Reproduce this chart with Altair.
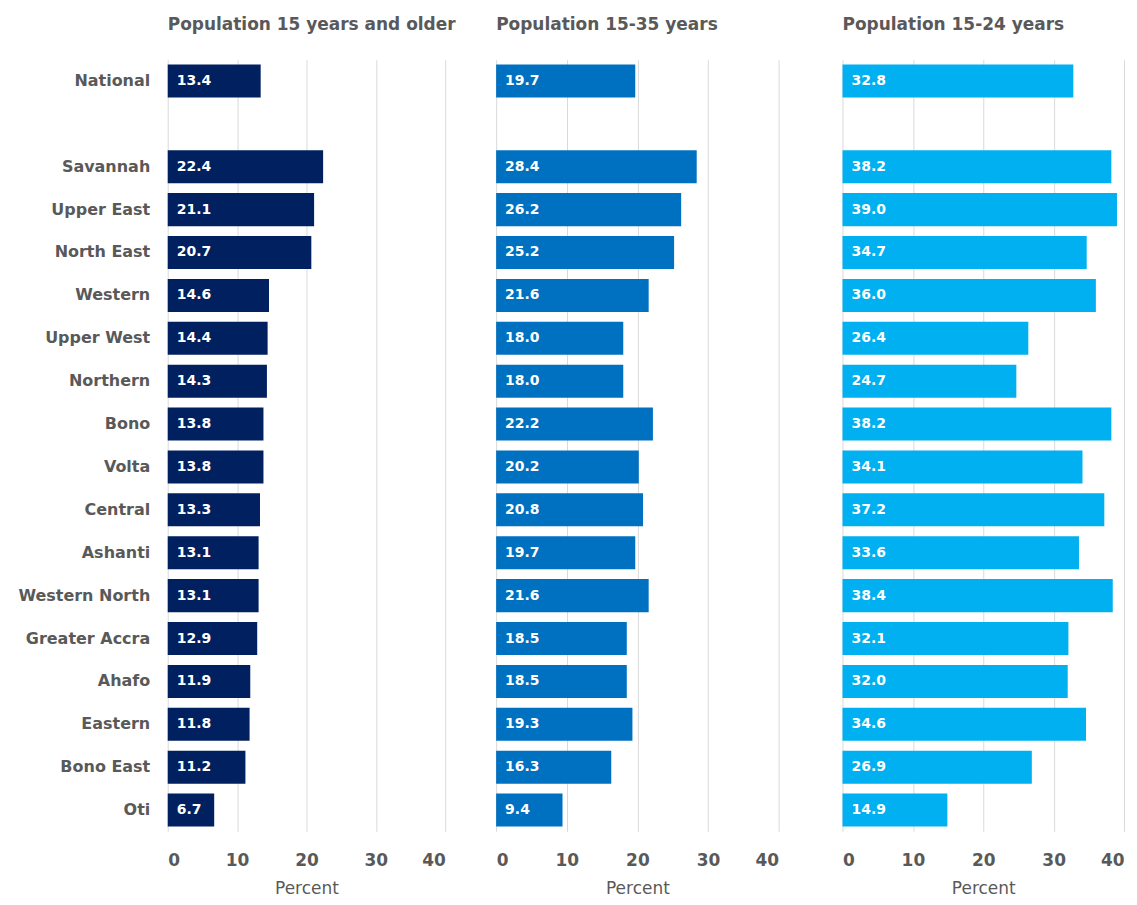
import altair as alt
import pandas as pd

regions = ["National", " ", "Savannah", "Upper East", "North East", "Western", "Upper West",
           "Northern", "Bono", "Volta", "Central", "Ashanti", "Western North",
           "Greater Accra", "Ahafo", "Eastern", "Bono East", "Oti"]
data_regions = [r for r in regions if r.strip()]
pop_15_older = [13.4, 22.4, 21.1, 20.7, 14.6, 14.4, 14.3, 13.8, 13.8, 13.3, 13.1, 13.1, 12.9, 11.9, 11.8, 11.2, 6.7]
pop_15_35 = [19.7, 28.4, 26.2, 25.2, 21.6, 18.0, 18.0, 22.2, 20.2, 20.8, 19.7, 21.6, 18.5, 18.5, 19.3, 16.3, 9.4]
pop_15_24 = [32.8, 38.2, 39.0, 34.7, 36.0, 26.4, 24.7, 38.2, 34.1, 37.2, 33.6, 38.4, 32.1, 32.0, 34.6, 26.9, 14.9]

titles = ["Population 15 years and older", "Population 15-35 years", "Population 15-24 years"]
colors = ["#002060", "#0070C0", "#00B0F0"]
series = [pop_15_older, pop_15_35, pop_15_24]
widths = [278, 283, 282]
gaps = [0, 40, 64]

FONT = "DejaVu Sans"
GREY = "#595959"

panels = []
for i in range(3):
    df = pd.DataFrame({"region": data_regions, "value": series[i]})
    if i == 0:
        yaxis = alt.Axis(title=None, labelFontSize=16, labelFontWeight="bold", labelColor=GREY,
                         labelFont=FONT, ticks=False, domain=False, labelPadding=18)
    else:
        yaxis = alt.Axis(title=None, labels=False, ticks=False, domain=False, minExtent=gaps[i],
                         maxExtent=gaps[i])
    y = alt.Y("region:N", scale=alt.Scale(domain=regions, paddingInner=0.23, paddingOuter=0.11),
              axis=yaxis)
    x = alt.X("value:Q", scale=alt.Scale(domain=[0, 40], nice=False),
              axis=alt.Axis(values=[0, 10, 20, 30, 40], title="Percent", titleFontWeight="normal",
                            titleFontSize=17, titleColor=GREY, titleFont=FONT, titlePadding=12,
                            labelFontSize=17, labelFontWeight="bold", labelColor=GREY, labelFont=FONT,
                            ticks=False, domain=False, grid=True, gridColor="#D9D9D9",
                            labelPadding=21))
    bars = alt.Chart(df).mark_bar(color=colors[i]).encode(y=y, x=x)
    text = alt.Chart(df).mark_text(align="left", dx=9, color="white", fontWeight="bold",
                                   fontSize=14, font=FONT).encode(
        y=alt.Y("region:N", scale=alt.Scale(domain=regions)),
        x=alt.datum(0),
        text=alt.Text("value:Q", format=".1f"))
    panel = alt.layer(bars, text).properties(
        width=widths[i], height=773,
        title=alt.TitleParams(titles[i], anchor="start", frame="group", fontSize=17,
                              fontWeight="bold", color=GREY, font=FONT, offset=26))
    panels.append(panel)

chart = alt.hconcat(*panels, spacing=0).configure_view(stroke=None).properties(
    padding={"left": 9, "top": 7, "right": 5, "bottom": 5})
chart.save("out.html", embed_options={"renderer": "svg", "actions": False})
